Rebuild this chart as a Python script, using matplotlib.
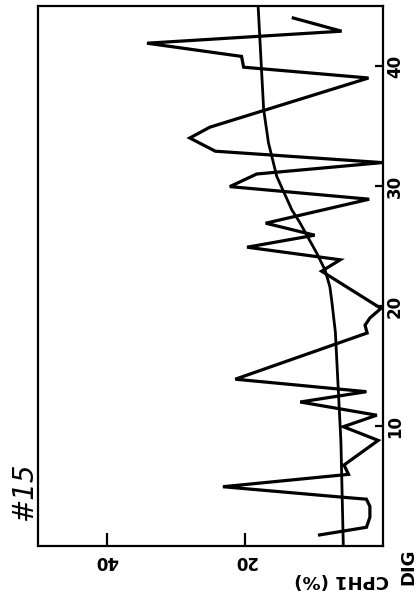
import matplotlib
matplotlib.use("Agg")
import matplotlib.pyplot as plt

# Observed series (DIG position, CPH1 %)
dig_obs = [0.92, 1.56, 2.4, 3.3, 3.9, 4.06, 4.94, 5.97, 6.75, 8.8, 9.94, 10.9,
           12.0, 12.86, 13.9, 17.75, 18.4, 19.0, 19.8, 22.9, 23.85, 24.9, 25.9,
           26.9, 28.9, 29.95, 31.0, 31.95, 32.9, 34.0, 34.9, 39.0, 39.9, 40.8,
           41.9, 42.9, 44.0]
cph1_obs = [9.2, 2.4, 1.9, 1.9, 2.4, 5.75, 23.2, 5.0, 5.65, 0.7, 5.75, 0.9,
            12.0, 2.4, 21.4, 2.3, 2.6, 1.9, 0.3, 8.9, 6.2, 19.7, 9.9,
            17.0, 2.0, 22.2, 18.3, 0.1, 24.3, 28.0, 25.1, 2.1, 20.2, 20.5,
            34.2, 6.0, 13.0]

# Fitted trend curve
trend_dig = [0, 8.7, 17.8, 20.3, 21.6, 23.0, 24.4, 27.0, 28.0, 30.8, 33.6, 36.4, 45]
trend_cph1 = [5.75, 6.1, 6.9, 7.4, 7.7, 8.4, 9.6, 12.1, 13.2, 15.4, 16.6, 17.3, 18.1]

cph1_ticks = [20, 40]
dig_ticks = [10, 20, 30, 40]

W, H = 416, 594
fig = plt.figure(figsize=(W / 100, H / 100), dpi=100)
fig.patch.set_facecolor("white")
ax = fig.add_axes([38 / W, 1 - 546 / H, (383 - 38) / W, (546 - 6) / H])

ax.plot(cph1_obs, dig_obs, color="black", lw=2.3, solid_joinstyle="miter")
ax.plot(trend_cph1, trend_dig, color="black", lw=2.0)

ax.set_xlim(50, 0)
ax.set_ylim(0, 45)

for s in ax.spines.values():
    s.set_linewidth(1.6)
    s.set_color("black")

font = dict(family="DejaVu Sans", weight="bold")

ax.set_xticks(cph1_ticks)
ax.set_xticklabels([str(t) for t in cph1_ticks], rotation=180, fontsize=12, **font)
ax.tick_params(axis="x", direction="in", length=9.5, width=1.6, pad=4)

ax.yaxis.tick_right()
ax.set_yticks(dig_ticks)
ax.set_yticklabels([str(t) for t in dig_ticks], rotation=90, va="center",
                   fontsize=12, **font)
ax.tick_params(axis="y", direction="in", length=5.5, width=1.6, pad=2)

fig.text(342 / W, 1 - 580 / H, "CPH1 (%)", rotation=180, ha="center", va="center",
         fontsize=13, **font)
fig.text(408 / W, 1 - 567 / H, "DIG", rotation=90, ha="center", va="center",
         fontsize=13, **font)
fig.text(24 / W, 1 - 492 / H, "#15", rotation=90, ha="center", va="center",
         fontsize=20, style="italic", family="DejaVu Sans")

fig.savefig("out.png", dpi=100, facecolor="white")
